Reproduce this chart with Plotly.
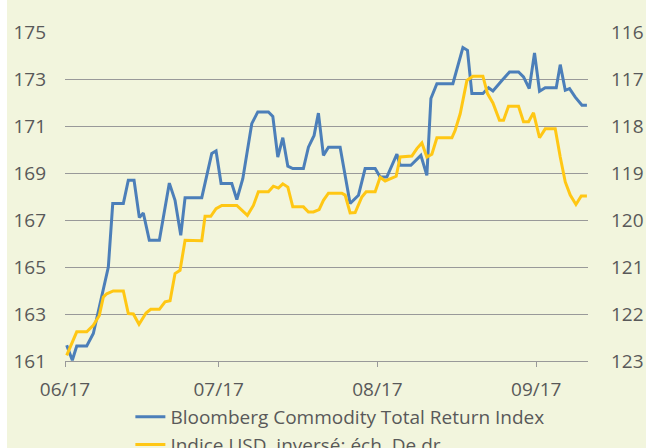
import pandas as pd
import plotly.graph_objects as go

debut = pd.Timestamp("2017-06-01")

# jours depuis le 1er juin 2017 (sommets)
jours_bcom = [0.33, 1.43, 2.29, 4.24, 5.53, 7.17, 8.46, 9.32, 11.39, 12.36,
              13.48, 14.51, 15.29, 16.46, 18.42, 20.37, 21.48, 22.6, 23.44, 26.7,
              28.65, 29.49, 30.47, 32.56, 33.54, 34.71, 36.46, 37.64, 39.71, 40.57,
              41.54, 42.52, 43.5, 44.47, 46.54, 47.52, 48.63, 49.47, 50.45, 51.43,
              53.71, 55.66, 57.29, 58.59, 60.55, 61.52, 62.83, 64.79, 65.43, 67.52,
              69.47, 70.64, 71.43, 72.6, 75.72, 77.68, 78.57, 79.43, 81.58, 82.68,
              83.54, 85.29, 86.78, 88.54, 89.51, 90.63, 91.66, 92.64, 93.75, 95.9,
              96.68, 97.66, 98.5, 99.61, 100.92, 101.89]
bcom = [161.67, 161.03, 161.64, 161.64, 162.17, 163.72, 165.0, 167.7, 167.7, 168.69,
        168.69, 167.1, 167.3, 166.14, 166.14, 168.57, 167.84, 166.35, 167.95, 167.95,
        169.83, 169.94, 168.55, 168.55, 167.87, 168.76, 171.1, 171.6, 171.6, 171.41,
        169.68, 170.5, 169.29, 169.19, 169.19, 170.1, 170.6, 171.55, 169.75, 170.1,
        170.1, 167.7, 168.05, 169.19, 169.19, 168.83, 168.83, 169.8, 169.33, 169.33,
        169.75, 168.9, 172.17, 172.8, 172.8, 174.34, 174.22, 172.38, 172.38, 172.63,
        172.49, 172.94, 173.3, 173.3, 173.09, 172.59, 174.11, 172.48, 172.63, 172.63,
        173.61, 172.52, 172.59, 172.23, 171.88, 171.88]

jours_usd = [0.33, 2.29, 4.24, 5.53, 6.7, 7.48, 8.14, 9.43, 11.39, 12.36,
             13.34, 14.45, 15.82, 16.74, 18.42, 19.53, 20.51, 21.48, 22.46, 23.44,
             26.7, 27.34, 28.46, 29.49, 30.61, 33.54, 35.61, 36.78, 37.75, 39.71,
             40.68, 41.66, 42.52, 43.5, 44.47, 46.54, 47.52, 48.5, 49.61, 50.45,
             51.43, 54.04, 54.69, 55.66, 56.64, 57.95, 58.79, 60.55, 61.52, 62.5,
             64.65, 65.43, 67.71, 68.69, 69.67, 70.64, 71.62, 72.6, 75.53, 76.17,
             77.15, 77.79, 78.46, 79.63, 81.58, 82.48, 83.54, 84.82, 85.61, 86.58,
             88.54, 89.51, 90.49, 91.46, 92.64, 93.75, 95.7, 96.68, 97.66, 98.63,
             99.75, 100.78, 101.89]
usd_inverse = [122.88, 122.38, 122.38, 122.24, 122.03, 121.64, 121.57, 121.51, 121.51, 121.99,
               122.0, 122.22, 121.98, 121.9, 121.9, 121.74, 121.72, 121.14, 121.07, 120.43,
               120.44, 119.92, 119.92, 119.76, 119.69, 119.69, 119.9, 119.69, 119.4, 119.4,
               119.28, 119.32, 119.23, 119.3, 119.72, 119.72, 119.83, 119.83, 119.78, 119.58,
               119.43, 119.43, 119.47, 119.85, 119.84, 119.51, 119.4, 119.4, 119.09, 119.17,
               119.07, 118.66, 118.64, 118.48, 118.36, 118.66, 118.6, 118.25, 118.25, 118.09,
               117.74, 117.38, 117.03, 116.94, 116.94, 117.31, 117.51, 117.88, 117.88, 117.58,
               117.58, 117.91, 117.91, 117.72, 118.25, 118.06, 118.06, 118.66, 119.19, 119.47,
               119.67, 119.49, 119.49]

mois = ["2017-06-01", "2017-07-01", "2017-08-01", "2017-09-01"]
mois_labels = ["06/17", "07/17", "08/17", "09/17"]
ticks_gauche = [161, 163, 165, 167, 169, 171, 173, 175]
ticks_droite = [116, 117, 118, 119, 120, 121, 122, 123]

FOND = "#f2f5dd"
GRIS = "#999999"
TEXTE = "#595959"


def en_dates(jours):
    return debut + pd.to_timedelta(jours, unit="D")


fig = go.Figure()

fig.add_trace(go.Scatter(
    x=en_dates(jours_bcom), y=bcom,
    name="Bloomberg Commodity Total Return Index",
    mode="lines",
    line=dict(color="#4c7fb9", width=3)
))

fig.add_trace(go.Scatter(
    x=en_dates(jours_usd), y=usd_inverse,
    name="Indice USD, inversé: éch. De dr",
    yaxis="y2",
    mode="lines",
    line=dict(color="#ffc714", width=3)
))

# figure un peu plus haute que la fenêtre : la légende est coupée en bas comme sur l'original
fig.update_layout(
    width=646, height=470,
    margin=dict(l=65, r=58, t=32, b=109, autoexpand=False),
    paper_bgcolor=FOND,
    plot_bgcolor=FOND,
    font=dict(family="Open Sans", size=19, color=TEXTE),
    xaxis=dict(
        range=[debut, debut + pd.Timedelta(days=102.1)],
        tickvals=mois,
        ticktext=mois_labels,
        showgrid=False,
        showline=True, linecolor=GRIS, linewidth=1.3,
        ticks="outside", ticklen=5, tickcolor=GRIS, tickwidth=1.3,
        ticklabelstandoff=6,
        zeroline=False,
        automargin=False
    ),
    yaxis=dict(
        range=[161, 175],
        tickvals=ticks_gauche,
        showgrid=True, gridcolor=GRIS, gridwidth=1.3,
        zeroline=False,
        ticks="",
        ticklabelstandoff=18,
        automargin=False
    ),
    yaxis2=dict(
        range=[123, 116],
        tickvals=ticks_droite,
        overlaying="y",
        side="right",
        showgrid=False,
        zeroline=False,
        ticks="",
        ticklabelstandoff=22,
        automargin=False
    ),
    legend=dict(
        orientation="v",
        x=0.125, xanchor="left",
        yref="container", y=1 - 398 / 470, yanchor="top",
        bgcolor="rgba(0,0,0,0)",
        font=dict(size=19),
        tracegroupgap=0
    ),
    shapes=[dict(
        type="rect", xref="paper", yref="paper",
        x0=-0.2, x1=-58 / 523, y0=-0.5, y1=1.2,
        fillcolor="white", line=dict(width=0), layer="below"
    )]
)

fig.write_html(
    "out.html",
    config={"displayModeBar": False},
    post_script="document.body.style.margin='0'; document.body.style.overflow='hidden';"
)
